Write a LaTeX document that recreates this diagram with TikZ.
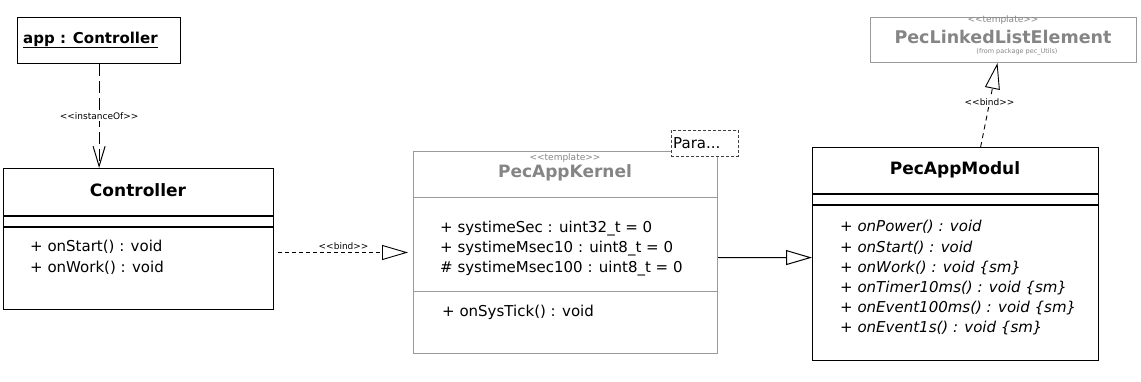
\documentclass[tikz,border=0pt]{standalone}
\usepackage{fontspec}
\setmainfont{DejaVu Sans}
\usepackage{tikz}
\usetikzlibrary{calc,arrows.meta}
\definecolor{umlgray}{HTML}{9A9A9A}
\definecolor{umltext}{HTML}{858585}
\tikzset{
  classbox/.style={draw, line width=1.2pt, anchor=north west, inner sep=0pt},
  tmplbox/.style={draw=umlgray, line width=1pt, anchor=north west, inner sep=0pt},
  classtitle/.style={inner sep=0pt, font=\fontsize{17}{20}\selectfont\bfseries},
  member/.style={anchor=west, inner sep=0pt, font=\fontsize{15}{17}\selectfont},
  stereo/.style={inner sep=1pt, font=\fontsize{9}{10}\selectfont},
  instof/.style={line width=1pt, dash pattern=on 12pt off 5pt,
    -{Straight Barb[length=20pt,width=12pt]}},
  bindline/.style={line width=0.9pt, dash pattern=on 4pt off 3pt,
    -{Triangle[open,length=26pt,width=15pt]}},
  realize/.style={line width=1pt, -{Triangle[open,length=26pt,width=15pt]}}
}
% stereotype guillemets without the font ligature
\newcommand{\umlst}[1]{<{}<#1>{}>}

\begin{document}
\begin{tikzpicture}[x=1pt,y=-1pt]

  % canvas of the reference
  \useasboundingbox (0,0) rectangle (1141,382);

  % object app
  \node[classbox, minimum width=163, minimum height=46] (app) at (17,17) {};
  \node[anchor=west, inner sep=0pt, font=\fontsize{15}{18}\selectfont\bfseries]
    (appname) at (23,40) {\underline{app : Controller}};

  % class Controller
  \node[classbox, minimum width=270, minimum height=141] (ctrl) at (3,168) {};
  \node[classtitle] (ctrlname) at (138,190) {Controller};
  \draw[line width=1.2pt] (3,216) -- (273,216) (3,227) -- (273,227);
  \foreach \txt [count=\i] in {
    + onStart() : void,
    + onWork() : void
  }{
    \node[member] at (30,{226+21*\i}) {\txt};
  }

  % template PecAppKernel
  \node[tmplbox, minimum width=304, minimum height=202] (kernel) at (413,151) {};
  \node[stereo, text=umltext] (kerneltmpl) at (565,158) {\umlst{template}};
  \node[classtitle, text=umltext] (kernelname) at (565,173) {PecAppKernel};
  \draw[umlgray, line width=1pt] (413,198) -- (717,198) (413,291) -- (717,291);
  \foreach \txt [count=\i] in {
    + systimeSec : uint32\_t = 0,
    + systimeMsec10 : uint8\_t = 0,
    \# systimeMsec100 : uint8\_t = 0
  }{
    \node[member] at (440,{209+20*\i}) {\txt};
  }
  \node[member] (kerneltick) at (442,312) {+ onSysTick() : void};

  % template parameter
  \node[draw=black!75, line width=0.9pt, dash pattern=on 3pt off 2pt, fill=white,
    anchor=north west, inner sep=0pt, minimum width=67, minimum height=26]
    (param) at (671,130) {};
  \node[member] (paramtext) at (673,143) {Para...};

  % class PecAppModul
  \node[classbox, minimum width=286, minimum height=213] (modul) at (812,147) {};
  \node[classtitle] (modulname) at (955,170) {PecAppModul};
  \draw[line width=1.2pt] (812,194) -- (1098,194) (812,205) -- (1098,205);
  \foreach \txt [count=\i] in {
    onPower() : void,
    onStart() : void,
    onWork() : void \{sm\},
    onTimer10ms() : void \{sm\},
    onEvent100ms() : void \{sm\},
    onEvent1s() : void \{sm\}
  }{
    \node[member] at (840,{207+20.2*\i}) {+ \textit{\txt}};
  }

  % template PecLinkedListElement
  \node[tmplbox, minimum width=266, minimum height=45] (lle) at (870,17) {};
  \node[stereo, text=umltext] (lletmpl) at (1003,20) {\umlst{template}};
  \node[classtitle, text=umltext, font=\fontsize{17.5}{20}\selectfont\bfseries]
    (llename) at (1003,37) {PecLinkedListElement};
  \node[inner sep=0pt, text=umltext, font=\fontsize{6.5}{7}\selectfont]
    (llepkg) at (1017,52) {(from package pec\_Utils)};

  % relations
  \draw[instof] (app.south) -- (app.south |- ctrl.north)
    node[midway, fill=white, stereo] {\umlst{instanceOf}};
  \draw[bindline, shorten <=4pt, shorten >=5pt] (ctrl.east |- kernel.west) -- (kernel.west)
    node[midway, above=1pt, stereo] {\umlst{bind}};
  \draw[realize] ($(kernel.east)+(0,5)$) -- ($(modul.west)+(0,3.5)$);
  \draw[bindline, dash pattern=on 5pt off 4pt] ($(modul.north)+(25,0)$) -- ($(lle.south)+(-6,0)$)
    node[pos=0.53, fill=white, stereo] {\umlst{bind}};

\end{tikzpicture}
\end{document}
